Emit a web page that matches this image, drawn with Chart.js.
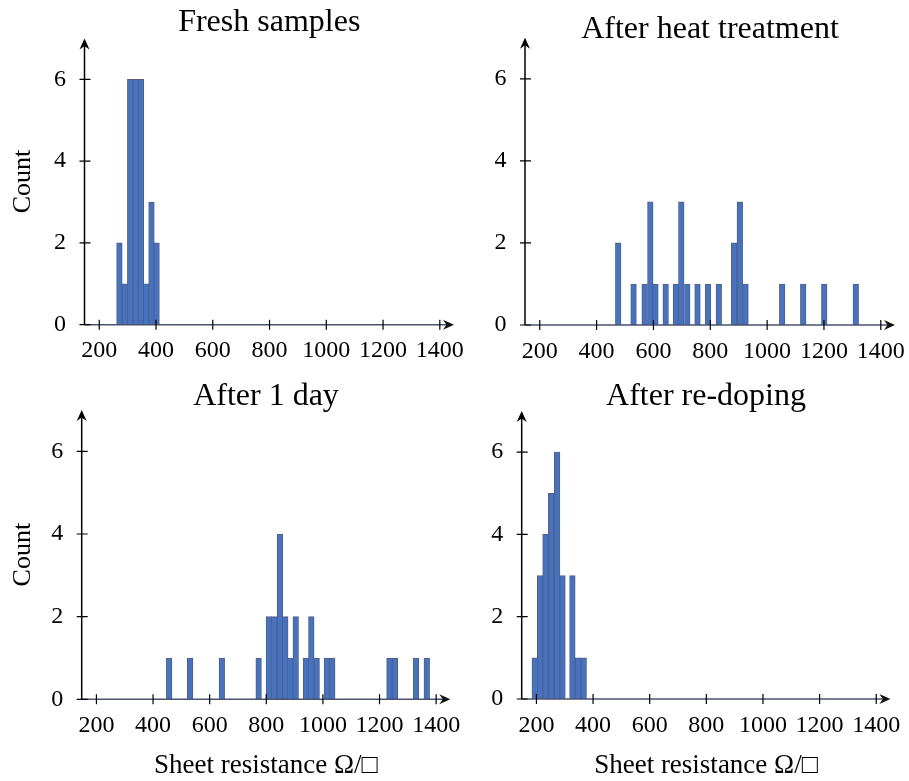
<!DOCTYPE html>
<html>
<head>
<meta charset="utf-8">
<script src="https://cdn.jsdelivr.net/npm/chart.js@4.4.0/dist/chart.umd.min.js"></script>
<style>
  body { margin: 0; background: #fff; }
  #wrap { position: relative; width: 909px; height: 781px; }
  canvas { position: absolute; }
</style>
</head>
<body>
<div id="wrap">
  <canvas id="fresh"  width="470" height="375" style="left:0;top:0"></canvas>
  <canvas id="heat"   width="439" height="375" style="left:470px;top:0"></canvas>
  <canvas id="day"    width="470" height="406" style="left:0;top:375px"></canvas>
  <canvas id="redope" width="439" height="406" style="left:470px;top:375px"></canvas>
</div>
<script>
// Histogram data (bar centres in Ω/□ and counts)
const freshCenters = [271, 291, 309, 328, 347, 365, 384, 402];
const freshCounts  = [2, 1, 6, 6, 6, 1, 3, 2];

const heatCenters = [476, 530, 569, 589, 607, 643, 679, 698, 719, 755, 792, 830, 884, 904, 924, 1053, 1127, 1201, 1312];
const heatCounts  = [2, 1, 1, 3, 1, 1, 1, 3, 1, 1, 1, 1, 2, 3, 1, 1, 1, 1, 1];

const dayCenters = [457, 531, 643, 773, 809, 828, 848, 867, 885, 904, 940, 959, 978, 1014, 1033, 1235, 1255, 1329, 1367];
const dayCounts  = [1, 1, 1, 1, 2, 2, 4, 2, 1, 2, 1, 2, 1, 1, 1, 1, 1, 1, 1];

const redopeCenters = [194, 213, 232, 252, 273, 292, 327, 347, 367];
const redopeCounts  = [1, 3, 4, 5, 6, 3, 3, 1, 1];

const xTicks = [200, 400, 600, 800, 1000, 1200, 1400];
const yTicks = [0, 2, 4, 6];

const FONT = '"Liberation Serif", "DejaVu Serif", serif';
const BAR_FILL = '#4472c4';
const BAR_EDGE = '#56607e';

// axis lines with arrow heads and ticks crossing the axis
const axisArrows = {
    id: 'axisArrows',
    afterDatasetsDraw(chart) {
        const { ctx, chartArea: a, scales: { x, y } } = chart;
        ctx.save();
        // x axis
        ctx.strokeStyle = '#4a5370';
        ctx.lineWidth = 1.6;
        ctx.beginPath();
        ctx.moveTo(a.left, a.bottom);
        ctx.lineTo(a.right - 5, a.bottom);
        ctx.stroke();
        ctx.fillStyle = '#111';
        ctx.beginPath();
        ctx.moveTo(a.right, a.bottom);
        ctx.lineTo(a.right - 11, a.bottom - 5);
        ctx.lineTo(a.right - 7.5, a.bottom);
        ctx.lineTo(a.right - 11, a.bottom + 5);
        ctx.closePath();
        ctx.fill();
        // y axis
        ctx.strokeStyle = '#000';
        ctx.lineWidth = 1.5;
        ctx.beginPath();
        ctx.moveTo(a.left, a.bottom);
        ctx.lineTo(a.left, a.top + 5);
        ctx.stroke();
        ctx.fillStyle = '#000';
        ctx.beginPath();
        ctx.moveTo(a.left, a.top);
        ctx.lineTo(a.left - 5, a.top + 11);
        ctx.lineTo(a.left, a.top + 7.5);
        ctx.lineTo(a.left + 5, a.top + 11);
        ctx.closePath();
        ctx.fill();
        // ticks
        ctx.lineWidth = 1.2;
        ctx.beginPath();
        xTicks.forEach(v => {
            const px = x.getPixelForValue(v);
            ctx.moveTo(px, a.bottom - 5);
            ctx.lineTo(px, a.bottom + 5);
        });
        yTicks.forEach(v => {
            const py = y.getPixelForValue(v);
            ctx.moveTo(a.left - 5, py);
            ctx.lineTo(a.left + 6, py);
        });
        ctx.stroke();
        ctx.restore();
    }
};

function makeChart(p) {
    const canvas = document.getElementById(p.id);
    const W = canvas.width, H = canvas.height;
    const a = p.area;
    // title box sized so its centre lands at p.titleY and it ends at the plot top
    const half = Math.min(p.titleY, a.top - p.titleY);
    const titleLH = 2 * half;

    return new Chart(canvas, {
        type: 'bar',
        data: {
            datasets: [{
                data: p.centers.map((c, i) => ({ x: c, y: p.counts[i] })),
                backgroundColor: BAR_FILL,
                borderColor: BAR_EDGE,
                borderWidth: 1,
                barThickness: 5.6
            }]
        },
        options: {
            responsive: false,
            animation: false,
            layout: { padding: { left: 0, top: 0, right: W - a.right, bottom: 0 } },
            plugins: {
                legend: { display: false },
                tooltip: { enabled: false },
                title: {
                    display: true,
                    text: p.title,
                    fullSize: false,
                    color: '#000',
                    font: { family: FONT, size: 32, weight: 'normal', lineHeight: titleLH + 'px' },
                    padding: { top: p.titleY - half, bottom: a.top - p.titleY - half }
                }
            },
            scales: {
                x: {
                    type: 'linear',
                    min: 148,
                    max: 1450,
                    offset: false,
                    grid: { display: false, drawTicks: false },
                    border: { display: false },
                    afterBuildTicks: s => { s.ticks = xTicks.map(v => ({ value: v })); },
                    afterFit: s => { s.height = H - a.bottom; s.paddingLeft = 0; s.paddingRight = 0; },
                    ticks: {
                        autoSkip: false, maxRotation: 0, minRotation: 0,
                        padding: 12, color: '#000',
                        font: { family: FONT, size: 24 },
                        callback: v => String(v)
                    },
                    title: {
                        display: p.xTitle,
                        text: 'Sheet resistance Ω/□',
                        color: '#000',
                        font: { family: FONT, size: 27, lineHeight: 1 },
                        padding: { top: 0, bottom: 1.5 }
                    }
                },
                y: {
                    min: 0,
                    max: 7,
                    grid: { display: false, drawTicks: false },
                    border: { display: false },
                    afterBuildTicks: s => { s.ticks = yTicks.map(v => ({ value: v })); },
                    afterFit: s => { s.width = a.left; s.paddingTop = 0; s.paddingBottom = 0; },
                    ticks: {
                        padding: 18.5, color: '#000',
                        font: { family: FONT, size: 24 },
                        callback: v => String(v)
                    },
                    title: {
                        display: p.yTitle,
                        text: 'Count',
                        color: '#000',
                        font: { family: FONT, size: 26, lineHeight: 1 },
                        padding: { top: 10, bottom: 0 }
                    }
                }
            }
        },
        plugins: [axisArrows]
    });
}

const panels = [
    { id: 'fresh',  title: 'Fresh samples',        centers: freshCenters,  counts: freshCounts,
      area: { left: 84.5, right: 454, top: 38.4, bottom: 324.7 }, titleY: 22.8, yTitle: true,  xTitle: false },
    { id: 'heat',   title: 'After heat treatment', centers: heatCenters,   counts: heatCounts,
      area: { left: 55, right: 425, top: 37.8, bottom: 325 },     titleY: 29.8, yTitle: false, xTitle: false },
    { id: 'day',    title: 'After 1 day',          centers: dayCenters,    counts: dayCounts,
      area: { left: 81.7, right: 450.3, top: 35, bottom: 324.3 }, titleY: 22,   yTitle: true,  xTitle: true },
    { id: 'redope', title: 'After re-doping',      centers: redopeCenters, counts: redopeCounts,
      area: { left: 51.7, right: 420.4, top: 36, bottom: 324 },   titleY: 22,   yTitle: false, xTitle: true }
];

panels.forEach(makeChart);
</script>
</body>
</html>
